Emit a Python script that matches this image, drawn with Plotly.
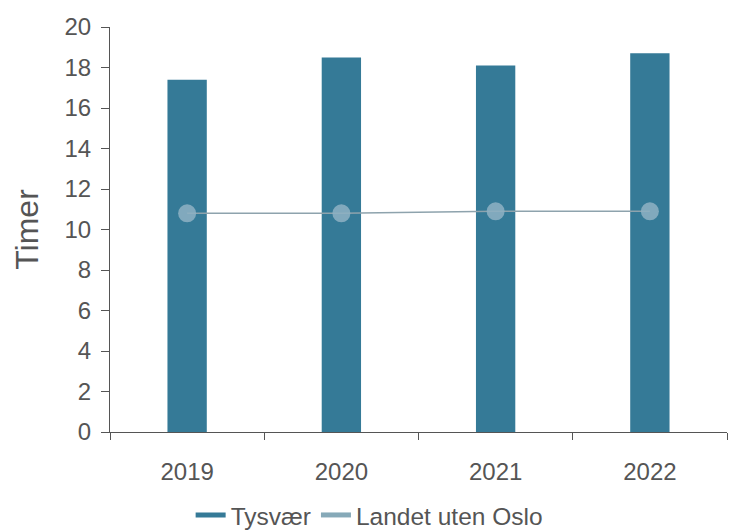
import plotly.graph_objects as go

years = ["2019", "2020", "2021", "2022"]
tysvaer = [17.4, 18.5, 18.1, 18.7]
landet = [10.8, 10.8, 10.9, 10.9]
y_ticks = [0, 2, 4, 6, 8, 10, 12, 14, 16, 18, 20]

BAR_COLOR = "#357a97"
LINE_COLOR = "#8ea3ad"
MARKER_COLOR = "rgba(142,178,195,0.85)"
LEGEND_LINE2 = "#86a9b8"
TEXT = "#555555"

fig = go.Figure()
fig.add_trace(go.Bar(
    x=years, y=tysvaer, name="Tysvær", showlegend=False,
    marker=dict(color=BAR_COLOR, line=dict(width=0)),
    width=0.255,
))
fig.add_trace(go.Scatter(
    x=years, y=landet, name="Landet uten Oslo", showlegend=False,
    mode="lines+markers",
    line=dict(color=LINE_COLOR, width=1.5),
    marker=dict(color=MARKER_COLOR, size=18),
))
# legend-only entries (line symbols, as in the reference)
fig.add_trace(go.Scatter(x=[None], y=[None], mode="lines", name="Tysvær",
                         line=dict(color=BAR_COLOR, width=5)))
fig.add_trace(go.Scatter(x=[None], y=[None], mode="lines", name="Landet uten Oslo",
                         line=dict(color=LEGEND_LINE2, width=5)))

fig.update_layout(
    width=729, height=531,
    margin=dict(l=110, r=2, t=27, b=99, autoexpand=False),
    plot_bgcolor="white", paper_bgcolor="white",
    font=dict(family="Liberation Sans, Arial, sans-serif", color=TEXT),
    showlegend=True,
    legend=dict(orientation="h", x=0.42, xanchor="center", y=-0.205, yanchor="middle",
                font=dict(size=24.5, color=TEXT), itemwidth=30, traceorder="normal"),
)
fig.update_xaxes(
    showline=True, linecolor=TEXT, linewidth=1,
    ticks="outside", tickson="boundaries", ticklen=7, tickcolor=TEXT,
    tickfont=dict(size=24, color=TEXT), showgrid=False, ticklabelstandoff=18,
)
fig.update_yaxes(
    range=[0, 20], tickvals=y_ticks,
    showline=True, linecolor=TEXT, linewidth=1,
    ticks="outside", ticklen=8, tickcolor=TEXT,
    tickfont=dict(size=24, color=TEXT), showgrid=False, ticklabelstandoff=5,
    title=dict(text="Timer", font=dict(size=32, color=TEXT), standoff=16),
    zeroline=False,
)

fig.write_html("out.html", config={"displayModeBar": False},
               post_script="document.body.style.margin='0';")
